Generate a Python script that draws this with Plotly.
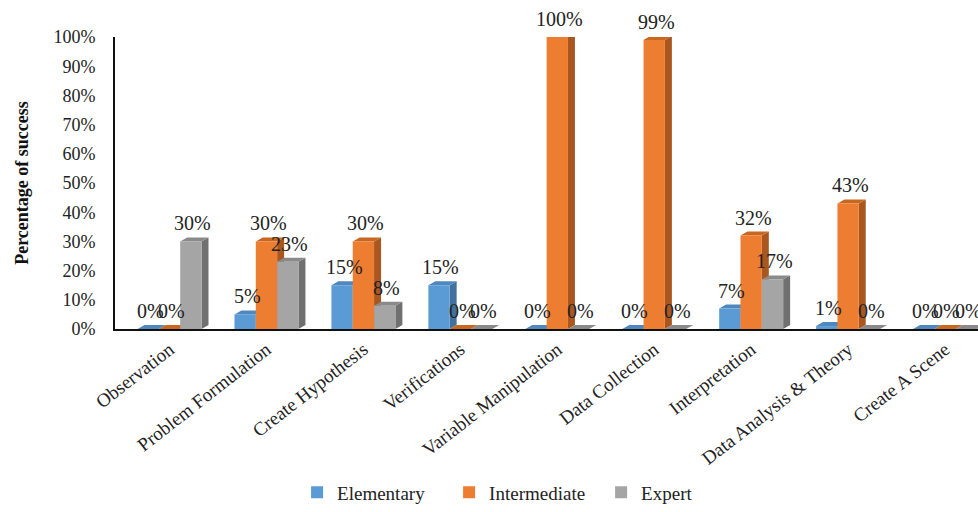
import plotly.graph_objects as go

categories = ["Observation", "Problem Formulation", "Create Hypothesis", "Verifications",
              "Variable Manipulation", "Data Collection", "Interpretation",
              "Data Analysis & Theory", "Create A Scene"]
elementary = [0, 5, 15, 15, 0, 0, 7, 1, 0]
intermediate = [0, 30, 30, 0, 100, 99, 32, 43, 0]
expert = [30, 23, 8, 0, 0, 0, 17, 0, 0]
y_ticks = [0, 10, 20, 30, 40, 50, 60, 70, 80, 90, 100]

series = [
    ("Elementary", elementary, "#5B9BD5", "#41719C", "#4E88BE"),
    ("Intermediate", intermediate, "#ED7D31", "#A9571F", "#C9661F"),
    ("Expert", expert, "#A5A5A5", "#707070", "#8A8A8A"),
]

W = 0.22          # bar width (x units)
DX = 0.072        # depth offset in x units
DY = 1.36         # depth offset in y units
FONT = "Liberation Serif"

x_idx = list(range(len(categories)))
fig = go.Figure()
shapes = []
annotations = []
for i, (name, vals, col, side, top) in enumerate(series):
    off = -1.5 * W + i * W
    fig.add_trace(go.Bar(
        x=x_idx, y=vals, name=name, width=W, offset=off,
        marker=dict(color=col, line=dict(width=0)),
    ))
    for xi, v in zip(x_idx, vals):
        x0 = xi + off
        x1 = x0 + W
        shapes.append(dict(type="path", xref="x", yref="y", layer="below",
                           path=f"M {x1},0 L {x1+DX},{DY} L {x1+DX},{v+DY} L {x1},{v} Z",
                           fillcolor=side, line=dict(width=0)))
        shapes.append(dict(type="path", xref="x", yref="y", layer="below",
                           path=f"M {x0},{v} L {x0+DX},{v+DY} L {x1+DX},{v+DY} L {x1},{v} Z",
                           fillcolor=top, line=dict(width=0)))
        annotations.append(dict(x=x0 + W / 2 + 0.02, y=v, xref="x", yref="y",
                                text=f"{v}%", showarrow=False, yshift=18,
                                xanchor="center", yanchor="middle",
                                font=dict(family=FONT, size=20, color="#222222")))

annotations.append(dict(text="<b>Percentage of success</b>", xref="paper", yref="paper",
                        x=-0.108, y=0.5, showarrow=False, textangle=-90,
                        xanchor="center", yanchor="middle",
                        font=dict(family=FONT, size=18, color="#111111")))

fig.update_layout(
    width=978, height=512,
    margin=dict(l=115, r=0, t=37, b=180),
    paper_bgcolor="white", plot_bgcolor="white",
    barmode="overlay",
    shapes=shapes, annotations=annotations,
    font=dict(family=FONT, color="#222222"),
    legend=dict(orientation="h", x=0.211, y=-0.56, xanchor="left", yanchor="middle",
                font=dict(family=FONT, size=19, color="#222222"), entrywidth=107,
                itemwidth=30, traceorder="normal"),
    showlegend=True,
)
fig.update_xaxes(
    range=[-0.5625, 8.34], tickmode="array", tickvals=x_idx, ticktext=categories,
    tickangle=-38, showline=True, linecolor="#111111", linewidth=2,
    showgrid=False, zeroline=False, ticks="",
    tickfont=dict(family=FONT, size=19, color="#222222"),
)
fig.update_yaxes(
    range=[0, 100], tickmode="array", tickvals=y_ticks,
    ticktext=[f"{t}%" for t in y_ticks],
    showline=True, linecolor="#111111", linewidth=2,
    showgrid=False, zeroline=False, ticks="", ticklabelstandoff=14,
    tickfont=dict(family=FONT, size=18, color="#222222"),
)

fig.write_html("out.html")
